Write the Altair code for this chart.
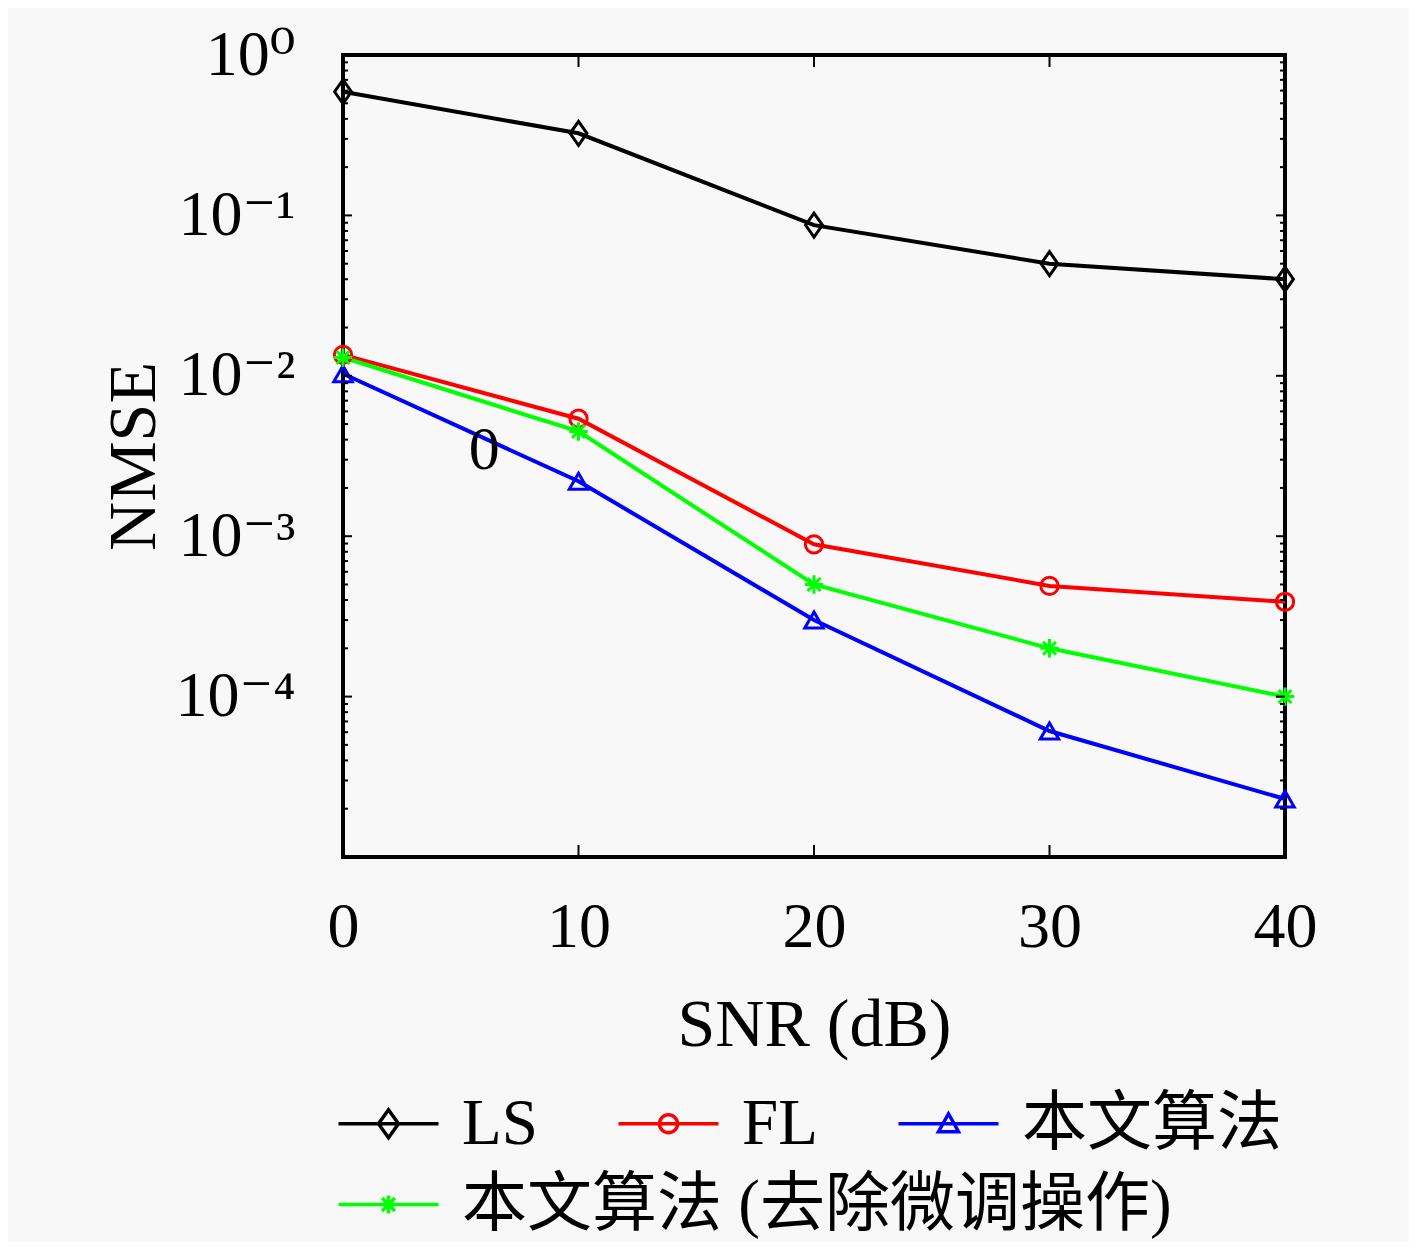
import altair as alt
import pandas as pd
import math

# ---------------- data ----------------
snr = [0, 10, 20, 30, 40]
nmse_ls = [0.59, 0.325, 0.087, 0.050, 0.040]
nmse_fl = [0.0135, 0.0054, 0.00089, 0.00049, 0.00039]
nmse_prop = [0.0103, 0.0022, 0.00030, 0.000061, 0.000023]
nmse_prop_noft = [0.013, 0.0045, 0.00050, 0.00020, 0.00010]

series_names = ["LS", "FL", "本文算法", "本文算法 (去除微调操作)"]
series_values = [nmse_ls, nmse_fl, nmse_prop, nmse_prop_noft]
series_colors = ["#000000", "#ff0000", "#0000ff", "#00ff00"]

x_ticks = [0, 10, 20, 30, 40]
x_inner_ticks = [10, 20, 30]
y_major = [1, 0.1, 0.01, 0.001, 0.0001]
y_major_inner = [0.1, 0.01, 0.001, 0.0001]
y_minor = [k * 10.0 ** e for e in range(-5, 0) for k in range(2, 10)]
y_label_text = ["10⁰", "10⁻¹", "10⁻²", "10⁻³", "10⁻⁴"]

stray_label = ["0"]
stray_x = [6]
stray_y = [0.00345]

# ---------------- styling ----------------
FONT = "Liberation Serif, DejaVu Serif, Noto Sans CJK SC"
BG = "#f8f8f8"

plot_markers = [
    "M0,-1L0.7,0L0,1L-0.7,0Z",
    "circle",
    "triangle-up",
    "M-1,0H1M0,-1V1M-0.7,-0.7L0.7,0.7M-0.7,0.7L0.7,-0.7",
]
plot_marker_sizes = [576, 300, 340, 340]

legend_paths = [
    "M-1,0H4M1.5,-0.7L2,0L1.5,0.7L1,0Z",
    "M-1,0H4M1.95,0A0.45,0.45 0 1,1 1.05,0A0.45,0.45 0 1,1 1.95,0",
    "M-1,0H4M1.5,-0.5L2,0.4L1,0.4Z",
    "M-1,0H4M1.05,0H1.95M1.5,-0.45V0.45M1.18,-0.32L1.82,0.32M1.18,0.32L1.82,-0.32",
]

rows = []
for name, vals in zip(series_names, series_values):
    for s, v in zip(snr, vals):
        rows.append({"snr": s, "nmse": v, "series": name})
df = pd.DataFrame(rows)

xs = alt.Scale(domain=[0, 40], nice=False, zero=False)
ys = alt.Scale(type="log", domain=[1e-5, 1], nice=False)

label_expr = ""
for v, t in zip(y_major, y_label_text):
    label_expr += f"abs(log(datum.value)/LN10 - ({math.log10(v)})) < 0.01 ? '{t}' : "
label_expr += "''"

AX = alt.Axis(values=x_ticks, title="SNR (dB)", labelPadding=38, labelFlush=False,
              titleX=471, titleY=188, titleBaseline="alphabetic", titleAnchor="middle")
AY = alt.Axis(values=y_major, labelExpr=label_expr, title="NMSE", labelPadding=48,
              titleX=-189, titleY=401, titleAngle=270, titleBaseline="alphabetic",
              titleAlign="center")

def X(field):
    return alt.X(field, scale=xs, axis=AX)

def Y(field):
    return alt.Y(field, scale=ys, axis=AY)

line_layers = []
point_layers = []
for name, col, shp, sz in zip(series_names, series_colors, plot_markers, plot_marker_sizes):
    base = alt.Chart(df).transform_filter(alt.FieldEqualPredicate(field="series", equal=name))
    line_layers.append(
        base.mark_line(strokeWidth=4, color=col).encode(x=X("snr:Q"), y=Y("nmse:Q"))
    )
    point_layers.append(
        base.mark_point(shape=shp, size=sz, filled=False, strokeWidth=3, color=col, opacity=1)
        .encode(x=X("snr:Q"), y=Y("nmse:Q"))
    )

def legend_layer(names, ly):
    idx = [series_names.index(n) for n in names]
    props = dict(
        orient="none", legendX=-17, legendY=ly, direction="horizontal", columns=len(names),
        title=None, labelFont=FONT, labelFontSize=65, labelColor="black",
        symbolSize=1600, symbolStrokeWidth=3.5, labelOffset=71, columnPadding=68,
        padding=0, labelLimit=2000, symbolFillColor="transparent", values=names,
    )
    return alt.Chart(df).transform_filter(
        alt.FieldOneOfPredicate(field="series", oneOf=names)
    ).transform_calculate(off="1e-9").mark_point(
        filled=False, clip=True, size=1600, strokeWidth=3, opacity=1
    ).encode(
        x=X("snr:Q"),
        y=Y("off:Q"),
        color=alt.Color("series:N",
                        scale=alt.Scale(domain=names, range=[series_colors[i] for i in idx]),
                        legend=alt.Legend(**props)),
        shape=alt.Shape("series:N",
                        scale=alt.Scale(domain=names, range=[legend_paths[i] for i in idx]),
                        legend=alt.Legend(**props)),
    )

legend_row1 = legend_layer(series_names[:3], 1036)
legend_row2 = legend_layer(series_names[3:], 1117)

# inward ticks
def yrule(values, x0, x1):
    return alt.Chart(pd.DataFrame({"v": values})).mark_rule(color="black", strokeWidth=2).encode(
        y=Y("v:Q"), x=alt.value(x0), x2=alt.value(x1))

def xrule(values, y0, y1):
    return alt.Chart(pd.DataFrame({"v": values})).mark_rule(color="black", strokeWidth=2).encode(
        x=X("v:Q"), y=alt.value(y0), y2=alt.value(y1))

W, H = 942, 802
ticks = [
    yrule(y_major_inner, 0, 9), yrule(y_minor, 0, 5),
    yrule(y_major_inner, W, W - 9), yrule(y_minor, W, W - 5),
    xrule(x_inner_ticks, H, H - 12), xrule(x_inner_ticks, 0, 12),
]

stray = alt.Chart(pd.DataFrame({"x": stray_x, "y": stray_y, "t": stray_label})).mark_text(
    font=FONT, fontSize=62, color="black", baseline="middle", align="center"
).encode(x=X("x:Q"), y=Y("y:Q"), text="t:N")

chart = alt.layer(*line_layers, *point_layers, *ticks, stray, legend_row1, legend_row2).resolve_scale(
    color="independent", shape="independent"
).resolve_legend(
    color="independent", shape="independent"
).properties(
    width=W, height=H,
    autosize=alt.AutoSizeParams(type="none"),
    padding={"left": 335, "top": 47, "right": 124, "bottom": 385},
    background=BG,
).configure_view(
    stroke="black", strokeWidth=4, fill=BG,
).configure_axis(
    domain=False, ticks=False, grid=False,
    labelFont=FONT, labelFontSize=64, labelColor="black",
    titleFont=FONT, titleFontSize=68, titleColor="black", titleFontWeight="normal",
)

chart.save("out.html", embed_options={"renderer": "svg", "actions": False})
